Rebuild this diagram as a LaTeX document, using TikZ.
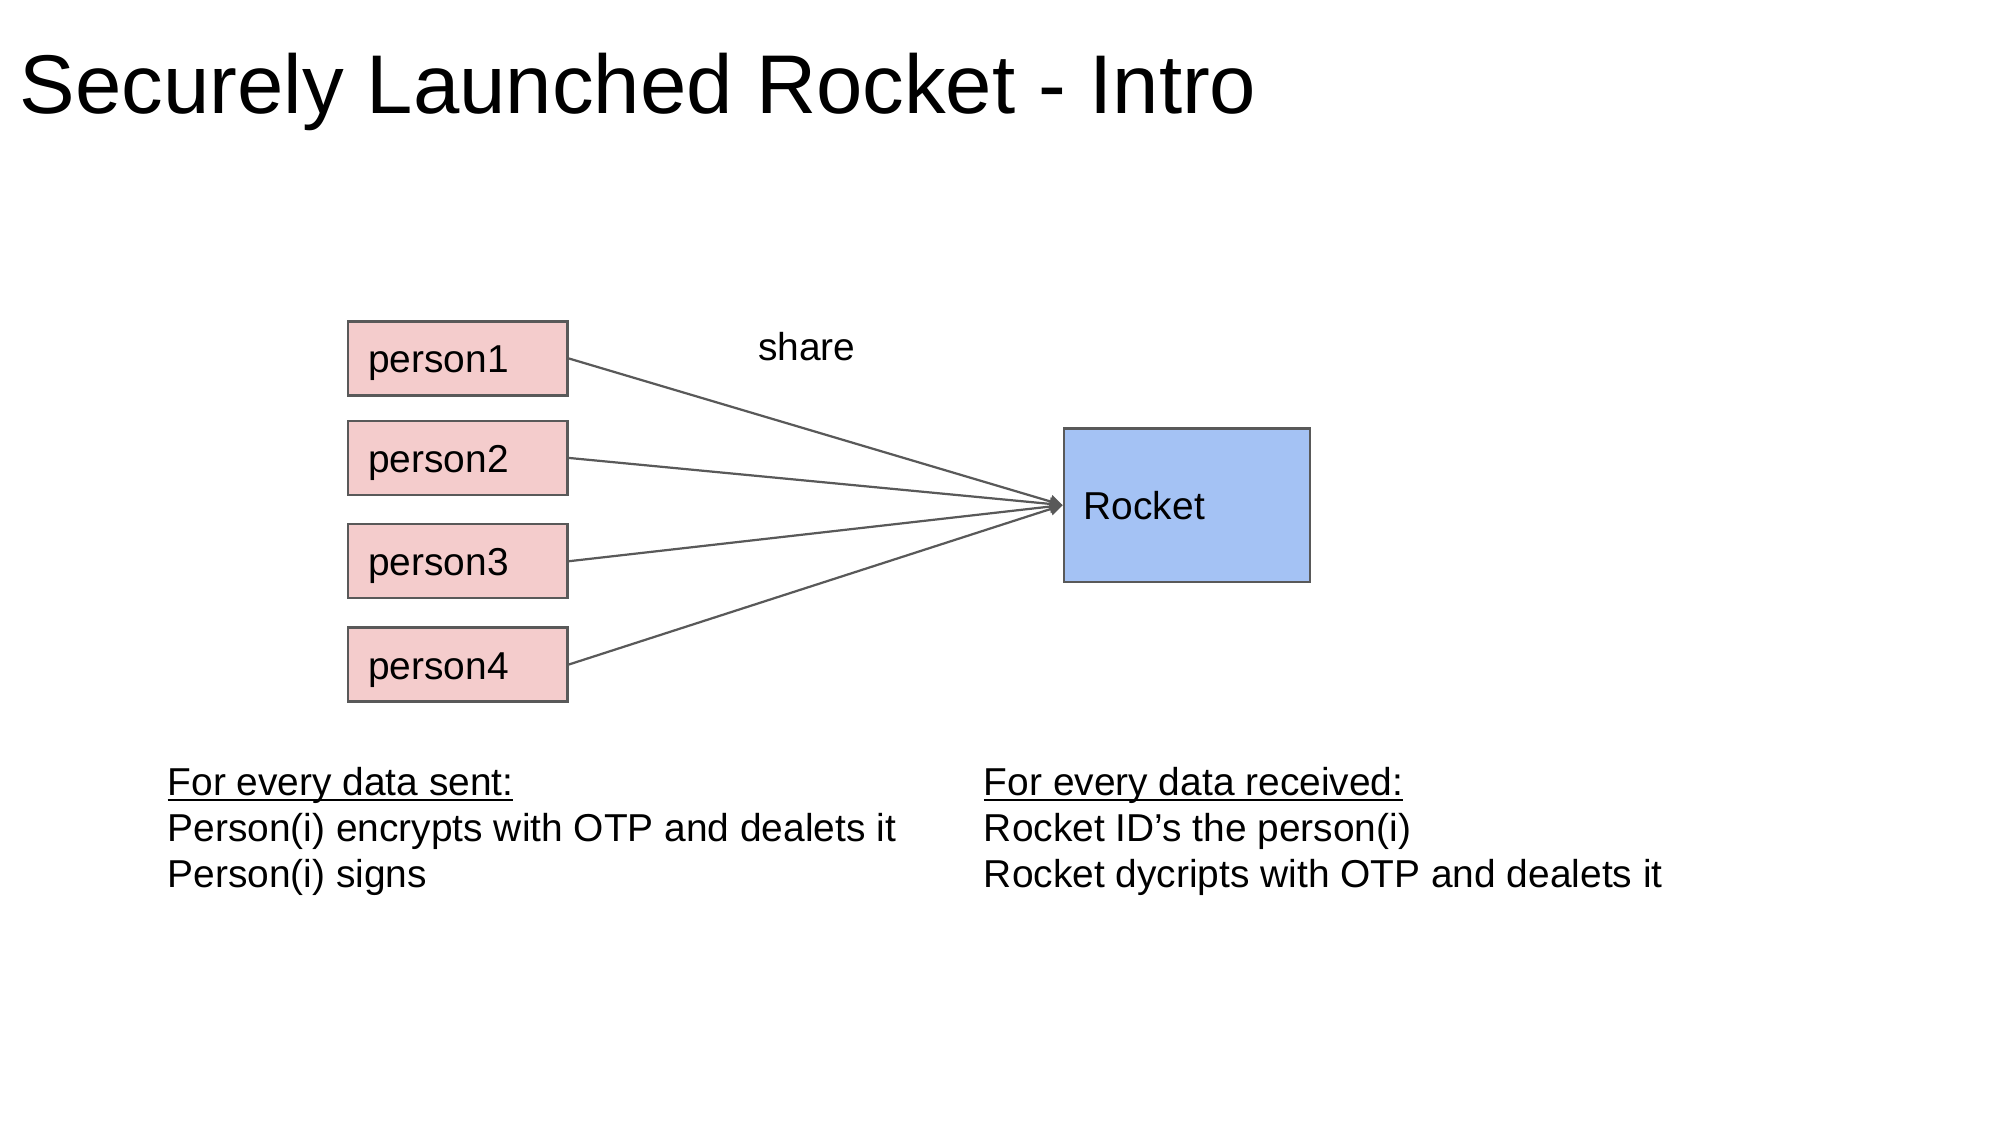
\documentclass[tikz,border=0pt]{standalone}
\usepackage{fontspec}
\setmainfont{Liberation Sans}
\usetikzlibrary{arrows.meta}
\definecolor{linegray}{HTML}{595959}
\definecolor{pinkfill}{HTML}{F4CCCC}
\definecolor{bluefill}{HTML}{A4C2F4}
\newcommand\myul[1]{\setbox0\hbox{#1}\rlap{\rule[-1.95pt]{\wd0}{0.7pt}}\box0}
\tikzset{
  pbox/.style={draw=linegray, fill=pinkfill, line width=0.8pt,
    minimum width=78.98pt, minimum height=26.63pt, inner xsep=7.2pt, inner ysep=0pt,
    text width=64.5pt, align=left, text height=12.67pt, text depth=2.2pt,
    font=\fontsize{14}{16.1}\selectfont},
  rbox/.style={draw=linegray, fill=bluefill, line width=0.8pt,
    minimum width=88.62pt, minimum height=55.1pt, inner xsep=7.2pt, inner ysep=0pt,
    text width=74.2pt, align=left, text height=12.67pt, text depth=2.5pt,
    font=\fontsize{14}{16.1}\selectfont},
  conn/.style={draw=linegray, line width=0.8pt, -{Triangle[length=4.6pt,width=4.6pt]}},
  body/.style={font=\fontsize{14}{16.53}\selectfont, inner sep=0pt, align=left},
}
\begin{document}
\begin{tikzpicture}[x=0.459184pt, y=-0.459184pt]
\useasboundingbox (0,0) rectangle (1568,882);
\fill[white] (0,0) rectangle (1568,882);
\node[anchor=base west, inner sep=0pt, font=\fontsize{30}{34.5}\selectfont] (title) at (15,89) {Securely Launched Rocket - Intro};
\node[pbox] (p1) at (359,281) {person1};
\node[pbox] (p2) at (359,359) {person2};
\node[pbox] (p3) at (359,440) {person3};
\node[pbox] (p4) at (359,521) {person4};
\node[rbox] (rocket) at (930.5,396) {Rocket};
\node[anchor=base west, inner sep=0pt, font=\fontsize{14}{16.1}\selectfont] (share) at (594,283) {share};
\draw[conn] (p1.east) -- (rocket.west);
\draw[conn] (p2.east) -- (rocket.west);
\draw[conn] (p3.east) -- (rocket.west);
\draw[conn] (p4.east) -- (rocket.west);
\node[body, anchor=north west] (sent) at (131,601.3) {\myul{For every data sent:}\\Person(i) encrypts with OTP and dealets it\\Person(i) signs};
\node[body, anchor=north west] (recv) at (771,601.3) {\myul{For every data received:}\\Rocket ID’s the person(i)\\Rocket dycripts with OTP and dealets it};
\end{tikzpicture}
\end{document}
